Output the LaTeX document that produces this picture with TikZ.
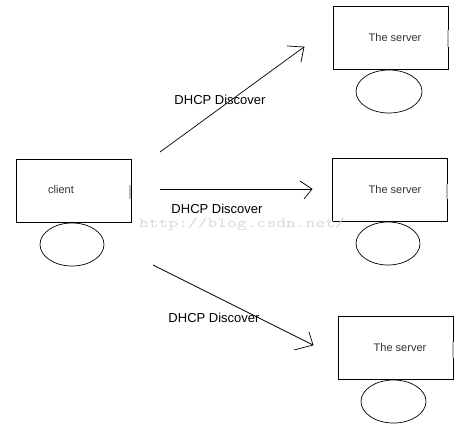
\documentclass[tikz,border=0pt]{standalone}
\usepackage{fontspec}
\setmainfont{Liberation Sans}
\begin{document}
\begin{tikzpicture}[x=1pt,y=-1pt,
  box/.style={draw,line width=0.9pt,minimum width=115pt,minimum height=63pt,inner sep=0pt},
  lbl/.style={font=\fontsize{11}{11}\selectfont,text=black!80,inner sep=0pt},
  msg/.style={font=\fontsize{13}{13}\selectfont,inner sep=0pt},
  arr/.style={line width=0.7pt},
  bar/.style={line width=1.3pt,gray!55}]
\useasboundingbox[fill=white] (0,0) rectangle (462,428);
% client
\node[box] (cbox) at (73.5,190.5) {};
\node[lbl] (ctext) at (61,190) {client};
\draw[bar] (130,185) -- (130,199);
\draw[line width=0.7pt] (72,244.5) ellipse [x radius=32pt,y radius=21.5pt];
% server 1
\node[box] (s1) at (390.5,37.5) {};
\node[lbl] (s1t) at (395,38) {The server};
\draw[bar] (448,30) -- (448,47);
\draw[line width=0.7pt] (389,91.5) ellipse [x radius=33pt,y radius=21.5pt];
% server 2
\node[box] (s2) at (390,189.5) {};
\node[lbl] (s2t) at (395,190) {The server};
\draw[bar] (447,184) -- (447,199);
\draw[line width=0.7pt] (388,243.5) ellipse [x radius=32pt,y radius=21.5pt];
% server 3
\node[box] (s3) at (395.5,347.5) {};
\node[lbl] (s3t) at (400,348) {The server};
\draw[bar] (453,342) -- (453,358);
\draw[line width=0.7pt] (393.5,401.5) ellipse [x radius=32.5pt,y radius=21.5pt];
% watermark
\node[inner sep=0pt,text=gray!30] (wm) at (242,224) {\scalebox{1.36}[1]{\ttfamily\fontsize{14}{14}\selectfont http://blog.csdn.net/}};
% arrows
\coordinate (a1s) at (160,152); \coordinate (a1e) at (304,47);
\coordinate (a2s) at (160,189); \coordinate (a2e) at (312,189);
\coordinate (a3s) at (153,265); \coordinate (a3e) at (313,345);
\draw[arr] (a1s) -- (a1e);
\draw[arr] (287,46) -- (a1e) -- (301,62);
\draw[arr] (a2s) -- (a2e);
\draw[arr] (300,181) -- (a2e) -- (304,199);
\draw[arr] (a3s) -- (a3e);
\draw[arr] (309,332) -- (a3e) -- (294,350);
% labels
\node[msg] (m1) at (220,100) {DHCP Discover};
\node[msg] (m2) at (217,208.5) {DHCP Discover};
\node[msg] (m3) at (214,318) {DHCP Discover};
\end{tikzpicture}
\end{document}
